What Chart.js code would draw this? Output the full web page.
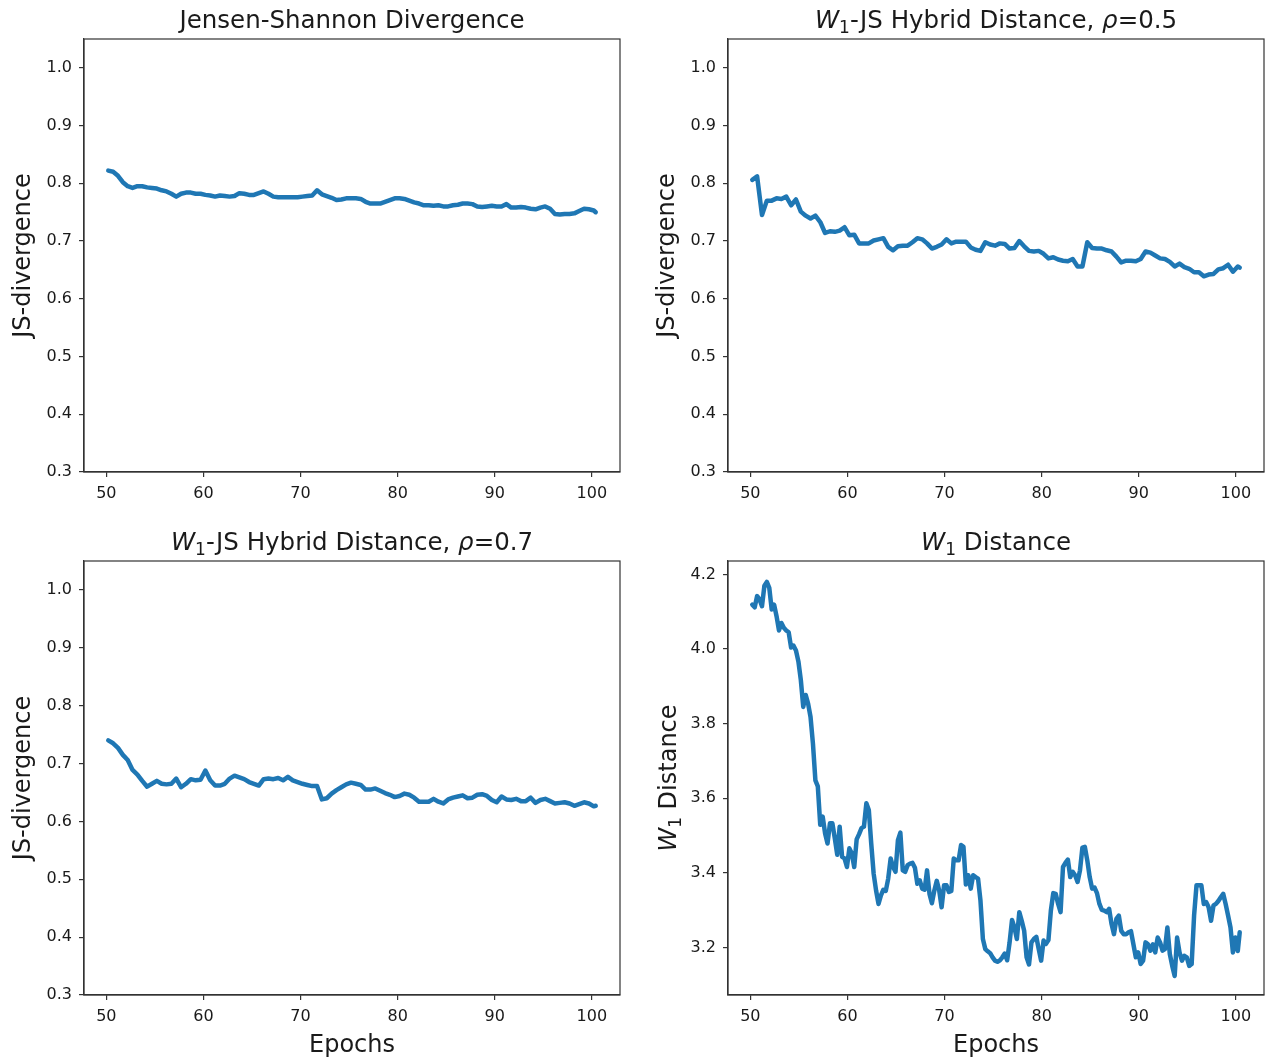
<!DOCTYPE html>
<html>
<head>
<meta charset="utf-8">
<script src="https://cdn.jsdelivr.net/npm/chart.js@4.4.1/dist/chart.umd.min.js"></script>
<style>
  html, body { margin: 0; padding: 0; background: #ffffff; }
  body { width: 1270px; height: 1061px; position: relative; overflow: hidden; }
  canvas { position: absolute; }
</style>
</head>
<body>
<canvas id="c1" width="635" height="522" style="left:0px;top:0px;width:635px;height:522px"></canvas>
<canvas id="c2" width="626" height="522" style="left:644px;top:0px;width:626px;height:522px"></canvas>
<canvas id="c3" width="635" height="539" style="left:0px;top:522px;width:635px;height:539px"></canvas>
<canvas id="c4" width="626" height="539" style="left:644px;top:522px;width:626px;height:539px"></canvas>
<script>
// ---------------- data ----------------
const epochsJS = [50.2,50.7,51.2,51.7,52.2,52.7,53.2,53.7,54.2,54.7,55.2,55.7,56.2,56.7,57.2,57.7,58.2,58.7,59.2,59.7,
  60.2,60.7,61.2,61.7,62.2,62.7,63.2,63.7,64.2,64.7,65.2,65.7,66.2,66.7,67.2,67.7,68.2,68.7,69.2,69.7,
  70.2,70.7,71.2,71.7,72.2,72.7,73.2,73.7,74.2,74.7,75.2,75.7,76.2,76.7,77.2,77.7,78.2,78.7,79.2,79.7,
  80.2,80.7,81.2,81.7,82.2,82.7,83.2,83.7,84.2,84.7,85.2,85.7,86.2,86.7,87.2,87.7,88.2,88.7,89.2,89.7,
  90.2,90.7,91.2,91.7,92.2,92.7,93.2,93.7,94.2,94.7,95.2,95.7,96.2,96.7,97.2,97.7,98.2,98.7,99.2,99.7,
  100.2,100.4];

const jsDivergence = [0.822,0.820,0.813,0.802,0.795,0.792,0.795,0.795,0.793,0.792,
  0.791,0.788,0.786,0.782,0.777,0.782,0.784,0.784,0.782,0.782,
  0.780,0.779,0.777,0.779,0.778,0.777,0.778,0.783,0.782,0.780,
  0.780,0.783,0.786,0.782,0.777,0.776,0.776,0.776,0.776,0.776,
  0.777,0.778,0.779,0.788,0.781,0.778,0.775,0.771,0.772,0.774,
  0.774,0.774,0.773,0.768,0.765,0.765,0.765,0.768,0.771,0.774,
  0.774,0.773,0.770,0.767,0.765,0.762,0.762,0.761,0.762,0.760,
  0.760,0.762,0.763,0.765,0.765,0.764,0.760,0.759,0.760,0.761,
  0.760,0.760,0.764,0.758,0.758,0.759,0.758,0.756,0.755,0.758,
  0.760,0.756,0.747,0.746,0.747,0.747,0.748,0.752,0.756,0.755,
  0.753,0.750];

const hybrid05 = [0.806,0.812,0.745,0.770,0.770,0.774,0.773,0.777,0.762,0.772,
  0.751,0.744,0.739,0.744,0.733,0.714,0.717,0.716,0.718,0.724,
  0.710,0.711,0.696,0.696,0.696,0.701,0.703,0.705,0.690,0.684,
  0.691,0.692,0.692,0.698,0.705,0.703,0.696,0.687,0.690,0.694,
  0.703,0.696,0.699,0.699,0.699,0.689,0.685,0.683,0.698,0.694,
  0.692,0.696,0.695,0.687,0.688,0.700,0.691,0.683,0.682,0.683,
  0.678,0.670,0.672,0.668,0.666,0.665,0.669,0.656,0.656,0.698,
  0.688,0.687,0.687,0.684,0.682,0.673,0.663,0.666,0.666,0.665,
  0.669,0.682,0.680,0.675,0.670,0.669,0.664,0.656,0.661,0.655,
  0.652,0.646,0.646,0.639,0.642,0.643,0.651,0.653,0.659,0.647,
  0.656,0.654];

const hybrid07 = [0.740,0.735,0.727,0.715,0.706,0.689,0.681,0.670,0.660,0.665,
  0.670,0.665,0.664,0.665,0.674,0.659,0.665,0.673,0.671,0.672,
  0.688,0.671,0.662,0.662,0.665,0.674,0.679,0.676,0.673,0.668,
  0.665,0.662,0.673,0.674,0.673,0.675,0.671,0.677,0.671,0.668,
  0.665,0.663,0.661,0.661,0.638,0.640,0.648,0.654,0.659,0.664,
  0.667,0.665,0.663,0.655,0.655,0.657,0.653,0.649,0.646,0.642,
  0.644,0.648,0.646,0.641,0.634,0.634,0.634,0.639,0.634,0.631,
  0.638,0.641,0.643,0.645,0.640,0.641,0.646,0.647,0.644,0.637,
  0.633,0.643,0.638,0.637,0.639,0.635,0.635,0.641,0.632,0.637,
  0.639,0.635,0.631,0.632,0.633,0.631,0.627,0.630,0.633,0.631,
  0.626,0.627];

const epochsW1 = [50.2,50.45,50.7,50.95,51.2,51.45,51.7,51.95,52.2,52.45,52.7,52.95,53.2,53.45,53.7,53.95,
  54.2,54.45,54.7,54.95,55.2,55.45,55.7,55.95,56.2,56.45,56.7,56.95,57.2,57.45,57.7,57.95,
  58.2,58.45,58.7,58.95,59.2,59.45,59.7,59.95,60.2,60.45,60.7,60.95,61.2,61.45,61.7,61.95,
  62.2,62.45,62.7,62.95,63.2,63.45,63.7,63.95,64.2,64.45,64.7,64.95,65.2,65.45,65.7,65.95,
  66.2,66.45,66.7,66.95,67.2,67.45,67.7,67.95,68.2,68.45,68.7,68.95,69.2,69.45,69.7,69.95,
  70.2,70.45,70.7,70.95,71.2,71.45,71.7,71.95,72.2,72.45,72.7,72.95,73.2,73.45,73.7,73.95,
  74.2,74.45,74.7,74.95,75.2,75.45,75.7,75.95,76.2,76.45,76.7,76.95,77.2,77.45,77.7,77.95,
  78.2,78.45,78.7,78.95,79.2,79.45,79.7,79.95,80.2,80.45,80.7,80.95,81.2,81.45,81.7,81.95,
  82.2,82.45,82.7,82.95,83.2,83.45,83.7,83.95,84.2,84.45,84.7,84.95,85.2,85.45,85.7,85.95,
  86.2,86.45,86.7,86.95,87.2,87.45,87.7,87.95,88.2,88.45,88.7,88.95,89.2,89.45,89.7,89.95,
  90.2,90.45,90.7,90.95,91.2,91.45,91.7,91.95,92.2,92.45,92.7,92.95,93.2,93.45,93.7,93.95,
  94.2,94.45,94.7,94.95,95.2,95.45,95.7,95.95,96.2,96.45,96.7,96.95,97.2,97.45,97.7,97.95,
  98.2,98.45,98.7,98.95,99.2,99.45,99.7,99.95,100.2,100.4];

const w1Distance = [4.119,4.112,4.142,4.133, 4.115,4.170,4.180,4.164, 4.106,4.119,4.088,4.050, 4.070,4.057,4.050,4.045,
  4.004,4.009,3.996,3.967, 3.917,3.845,3.877,3.854, 3.818,3.746,3.648,3.632, 3.529,3.551,3.506,3.479,
  3.533,3.533,3.493,3.449, 3.524,3.443,3.439,3.416, 3.466,3.452,3.416,3.490, 3.504,3.520,3.524,3.587,
  3.569,3.479,3.398,3.353, 3.317,3.340,3.355,3.352, 3.385,3.439,3.416,3.403, 3.488,3.508,3.407,3.403,
  3.421,3.425,3.427,3.414, 3.371,3.380,3.358,3.355, 3.407,3.344,3.319,3.353, 3.379,3.353,3.308,3.367,
  3.367,3.349,3.352,3.439, 3.434,3.434,3.475,3.470, 3.369,3.394,3.358,3.394, 3.389,3.385,3.326,3.223,
  3.196,3.190,3.185,3.174, 3.165,3.162,3.166,3.174, 3.184,3.166,3.214,3.274, 3.254,3.223,3.295,3.272,
  3.245,3.174,3.155,3.214, 3.223,3.229,3.196,3.165, 3.219,3.210,3.220,3.299, 3.346,3.344,3.317,3.295,
  3.416,3.427,3.436,3.389, 3.403,3.394,3.376,3.407, 3.468,3.470,3.434,3.389, 3.358,3.361,3.346,3.317,
  3.301,3.299,3.295,3.304, 3.263,3.236,3.277,3.286, 3.245,3.236,3.236,3.241, 3.244,3.209,3.174,3.187,
  3.156,3.165,3.214,3.209, 3.192,3.209,3.187,3.227, 3.214,3.192,3.196,3.254, 3.183,3.151,3.124,3.227,
  3.187,3.165,3.178,3.174, 3.151,3.156,3.286,3.367, 3.367,3.367,3.317,3.322, 3.308,3.272,3.313,3.317,
  3.325,3.335,3.344,3.317, 3.286,3.254,3.187,3.227, 3.191,3.241];

const xTicks = [50, 60, 70, 80, 90, 100];
const yTicksJS = [0.3, 0.4, 0.5, 0.6, 0.7, 0.8, 0.9, 1.0];
const yTicksW1 = [3.2, 3.4, 3.6, 3.8, 4.0, 4.2];

// ---------------- style ----------------
const FONT = "'DejaVu Sans', 'Liberation Sans', sans-serif";
const TEXT = '#1a1a1a';
const SPINE = '#333333';
const LINE = '#1f77b4';

// border on all 4 sides of the plot area
const framePlugin = {
  id: 'frame',
  afterDraw(chart) {
    const { ctx, chartArea: a } = chart;
    ctx.save();
    ctx.strokeStyle = SPINE;
    ctx.lineWidth = 1.2;
    ctx.strokeRect(a.left, a.top, a.right - a.left, a.bottom - a.top);
    ctx.restore();
  }
};

function segFont(s, size) {
  const sz = s.sub ? Math.round(size * 0.7) : size;
  return (s.it ? 'italic ' : '') + sz + 'px ' + FONT;
}
function drawRich(ctx, segs, cx, baseY, size) {
  let total = 0;
  const parts = segs.map(s => {
    ctx.font = segFont(s, size);
    const w = ctx.measureText(s.t).width;
    total += w;
    return { s, w };
  });
  let x = cx - total / 2;
  ctx.textAlign = 'left';
  ctx.textBaseline = 'alphabetic';
  parts.forEach(p => {
    ctx.font = segFont(p.s, size);
    ctx.fillText(p.s.t, x, baseY + (p.s.sub ? size * 0.22 : 0));
    x += p.w;
  });
}

// rich-text panel title and (optional) rich y-axis title
const richTextPlugin = {
  id: 'richText',
  afterDraw(chart, args, opts) {
    const { ctx, chartArea: a } = chart;
    ctx.save();
    ctx.fillStyle = TEXT;
    if (opts.title) drawRich(ctx, opts.title, (a.left + a.right) / 2, a.top - 11, 24.5);
    if (opts.yTitle) {
      ctx.translate(31.5, (a.top + a.bottom) / 2);
      ctx.rotate(-Math.PI / 2);
      drawRich(ctx, opts.yTitle, 0, 0, 24);
    }
    ctx.restore();
  }
};

function makeChart(id, xs, ys, o) {
  const points = xs.map((x, i) => ({ x: x, y: ys[i] }));
  return new Chart(document.getElementById(id), {
    type: 'line',
    data: {
      datasets: [{
        data: points,
        borderColor: LINE,
        backgroundColor: LINE,
        borderWidth: 4.5,
        pointRadius: 0,
        tension: 0,
        fill: false,
        borderJoinStyle: 'round',
        borderCapStyle: 'round'
      }]
    },
    options: {
      responsive: false,
      animation: false,
      devicePixelRatio: 1,
      layout: { padding: { left: 0, top: 39, right: o.padRight, bottom: 0 } },
      plugins: {
        legend: { display: false },
        tooltip: { enabled: false },
        title: { display: false },
        richText: { title: o.title, yTitle: o.yRich || null }
      },
      scales: {
        x: {
          type: 'linear',
          min: 47.7,
          max: 102.9,
          afterBuildTicks: s => { s.ticks = xTicks.map(v => ({ value: v })); },
          afterFit: s => { s.height = o.xHeight; },
          ticks: {
            font: { family: FONT, size: 16 }, color: TEXT, padding: 7,
            maxRotation: 0, autoSkip: false,
            callback: v => String(v)
          },
          grid: { drawOnChartArea: false, drawTicks: true, tickLength: 5, color: SPINE, lineWidth: 1.2 },
          border: { display: true, color: SPINE, width: 1.2 },
          title: o.xTitle ? {
            display: true, text: o.xTitle, color: TEXT,
            font: { family: FONT, size: 24 }, padding: { top: 0, bottom: 1 }
          } : { display: false }
        },
        y: {
          type: 'linear',
          min: o.yMin,
          max: o.yMax,
          afterBuildTicks: s => { s.ticks = o.yTicks.map(v => ({ value: v })); },
          afterFit: s => { s.width = 84; },
          ticks: {
            font: { family: FONT, size: 16 }, color: TEXT, padding: 7,
            autoSkip: false,
            callback: v => Number(v).toFixed(1)
          },
          grid: { drawOnChartArea: false, drawTicks: true, tickLength: 5, color: SPINE, lineWidth: 1.2 },
          border: { display: true, color: SPINE, width: 1.2 },
          title: o.yTitle ? {
            display: true, text: o.yTitle, color: TEXT,
            font: { family: FONT, size: 24 }, padding: { top: 9, bottom: 0 }
          } : { display: false }
        }
      }
    },
    plugins: [framePlugin, richTextPlugin]
  });
}

makeChart('c1', epochsJS, jsDivergence, {
  title: [{ t: 'Jensen-Shannon Divergence' }],
  yTitle: 'JS-divergence', yMin: 0.3, yMax: 1.05, yTicks: yTicksJS,
  xHeight: 50, padRight: 15
});
makeChart('c2', epochsJS, hybrid05, {
  title: [{ t: 'W', it: true }, { t: '1', sub: true }, { t: '-JS Hybrid Distance, ' }, { t: 'ρ', it: true }, { t: '=0.5' }],
  yTitle: 'JS-divergence', yMin: 0.3, yMax: 1.05, yTicks: yTicksJS,
  xHeight: 50, padRight: 6
});
makeChart('c3', epochsJS, hybrid07, {
  title: [{ t: 'W', it: true }, { t: '1', sub: true }, { t: '-JS Hybrid Distance, ' }, { t: 'ρ', it: true }, { t: '=0.7' }],
  yTitle: 'JS-divergence', yMin: 0.3, yMax: 1.05, yTicks: yTicksJS,
  xHeight: 66, padRight: 15, xTitle: 'Epochs'
});
makeChart('c4', epochsW1, w1Distance, {
  title: [{ t: 'W', it: true }, { t: '1', sub: true }, { t: ' Distance' }],
  yRich: [{ t: 'W', it: true }, { t: '1', sub: true }, { t: ' Distance' }],
  yMin: 3.073, yMax: 4.236, yTicks: yTicksW1,
  xHeight: 66, padRight: 6, xTitle: 'Epochs'
});
</script>
</body>
</html>
